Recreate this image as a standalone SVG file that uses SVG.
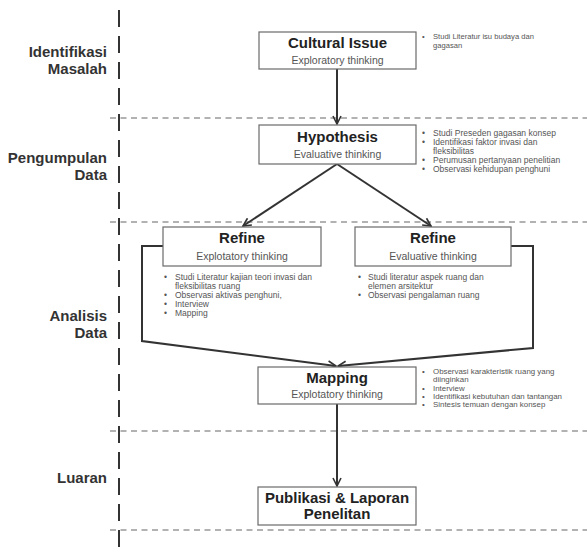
<svg xmlns="http://www.w3.org/2000/svg" width="587" height="553" viewBox="0 0 587 553">
<style>
  .lane { font-family: "Liberation Sans", Arial, sans-serif; font-size: 15px; font-weight: bold; fill: #333; text-anchor: end; }
  .box { fill: #fff; stroke: #6a6a6a; stroke-width: 1.2; }
  .ttl { font-family: "Liberation Sans", Arial, sans-serif; font-size: 15px; font-weight: bold; fill: #222; text-anchor: middle; }
  .sub { font-family: "Liberation Sans", Arial, sans-serif; font-size: 10.5px; fill: #555; text-anchor: middle; }
  .note { font-family: "Liberation Sans", Arial, sans-serif; font-size: 8.5px; fill: #555; }
  .note.sm { font-size: 7.6px; }
  .note.md { font-size: 7.9px; }
  .sep { stroke: #999; stroke-width: 1.3; stroke-dasharray: 6 4.5; fill: none; }
  .vline { stroke: #333; stroke-width: 2; stroke-dasharray: 17 9; fill: none; }
  .conn { stroke: #333; stroke-width: 2; fill: none; marker-end: url(#arr); }
</style>
<defs>
  <marker id="arr" viewBox="0 0 10 10" refX="9" refY="5" markerWidth="10" markerHeight="10" markerUnits="userSpaceOnUse" orient="auto">
    <path d="M1,1 L9,5 L1,9" fill="none" stroke="#333" stroke-width="1.6"/>
  </marker>
</defs>
<rect width="587" height="553" fill="#fff"/>

<g id="lanes">
  <line class="vline" x1="119" y1="10" x2="119" y2="553"/>
  <line class="sep" x1="110" y1="118" x2="587" y2="118"/>
  <line class="sep" x1="110" y1="222" x2="587" y2="222"/>
  <line class="sep" x1="110" y1="431" x2="587" y2="431"/>
  <line class="sep" x1="110" y1="530" x2="587" y2="530"/>
  <text class="lane" x="107" y="57">Identifikasi</text>
  <text class="lane" x="107" y="74">Masalah</text>
  <text class="lane" x="107" y="163">Pengumpulan</text>
  <text class="lane" x="107" y="180">Data</text>
  <text class="lane" x="107" y="321">Analisis</text>
  <text class="lane" x="107" y="338">Data</text>
  <text class="lane" x="107" y="483">Luaran</text>
</g>

<g id="connectors">
  <path class="conn" d="M337,69 L337,124"/>
  <path class="conn" d="M337,164 L243,226"/>
  <path class="conn" d="M337,164 L431,226"/>
  <path class="conn" d="M163,246 L142,246 L142,341 L336,366"/>
  <path class="conn" d="M511,246 L533,246 L533,348 L338,366"/>
  <path class="conn" d="M337,404 L337,486"/>
</g>

<g id="cultural">
  <rect class="box" x="259" y="32" width="157" height="37"/>
  <text class="ttl" x="337.5" y="48">Cultural Issue</text>
  <text class="sub" x="337.5" y="64">Exploratory thinking</text>
  <g class="note sm">
    <text x="422" y="39">•</text>
    <text x="433" y="39">Studi Literatur isu budaya dan</text>
    <text x="433" y="47.5">gagasan</text>
  </g>
</g>

<g id="hypothesis">
  <rect class="box" x="259" y="125" width="157" height="39"/>
  <text class="ttl" x="337.5" y="142">Hypothesis</text>
  <text class="sub" x="337.5" y="158">Evaluative thinking</text>
  <g class="note">
    <text x="422" y="136">•</text>
    <text x="433" y="136">Studi Preseden gagasan konsep</text>
    <text x="422" y="145">•</text>
    <text x="433" y="145">Identifikasi faktor invasi dan</text>
    <text x="433" y="154">fleksibilitas</text>
    <text x="422" y="163">•</text>
    <text x="433" y="163">Perumusan pertanyaan penelitian</text>
    <text x="422" y="172">•</text>
    <text x="433" y="172">Observasi kehidupan penghuni</text>
  </g>
</g>

<g id="refine-left">
  <rect class="box" x="163" y="227" width="158" height="39"/>
  <text class="ttl" x="242" y="243">Refine</text>
  <text class="sub" x="242" y="260">Explotatory thinking</text>
  <g class="note">
    <text x="164" y="280">•</text>
    <text x="175" y="280">Studi Literatur kajian teori invasi dan</text>
    <text x="175" y="289">fleksibilitas ruang</text>
    <text x="164" y="298">•</text>
    <text x="175" y="298">Observasi aktivas penghuni,</text>
    <text x="164" y="307">•</text>
    <text x="175" y="307">Interview</text>
    <text x="164" y="316">•</text>
    <text x="175" y="316">Mapping</text>
  </g>
</g>

<g id="refine-right">
  <rect class="box" x="355" y="227" width="156" height="39"/>
  <text class="ttl" x="433" y="243">Refine</text>
  <text class="sub" x="433" y="260">Evaluative thinking</text>
  <g class="note">
    <text x="358" y="280">•</text>
    <text x="368" y="280">Studi literatur aspek ruang dan</text>
    <text x="368" y="289">elemen arsitektur</text>
    <text x="358" y="298">•</text>
    <text x="368" y="298">Observasi pengalaman ruang</text>
  </g>
</g>

<g id="mapping">
  <rect class="box" x="258" y="367" width="158" height="37"/>
  <text class="ttl" x="337" y="383">Mapping</text>
  <text class="sub" x="337" y="398">Explotatory thinking</text>
  <g class="note md">
    <text x="422" y="374">•</text>
    <text x="433" y="374">Observasi karakteristik ruang yang</text>
    <text x="433" y="382.3">diinginkan</text>
    <text x="422" y="390.6">•</text>
    <text x="433" y="390.6">Interview</text>
    <text x="422" y="398.9">•</text>
    <text x="433" y="398.9">Identifikasi kebutuhan dan tantangan</text>
    <text x="422" y="407.2">•</text>
    <text x="433" y="407.2">Sintesis temuan dengan konsep</text>
  </g>
</g>

<g id="publikasi">
  <rect class="box" x="258" y="487" width="158" height="38"/>
  <text class="ttl" x="337" y="503">Publikasi &amp; Laporan</text>
  <text class="ttl" x="337" y="519">Penelitan</text>
</g>
</svg>
